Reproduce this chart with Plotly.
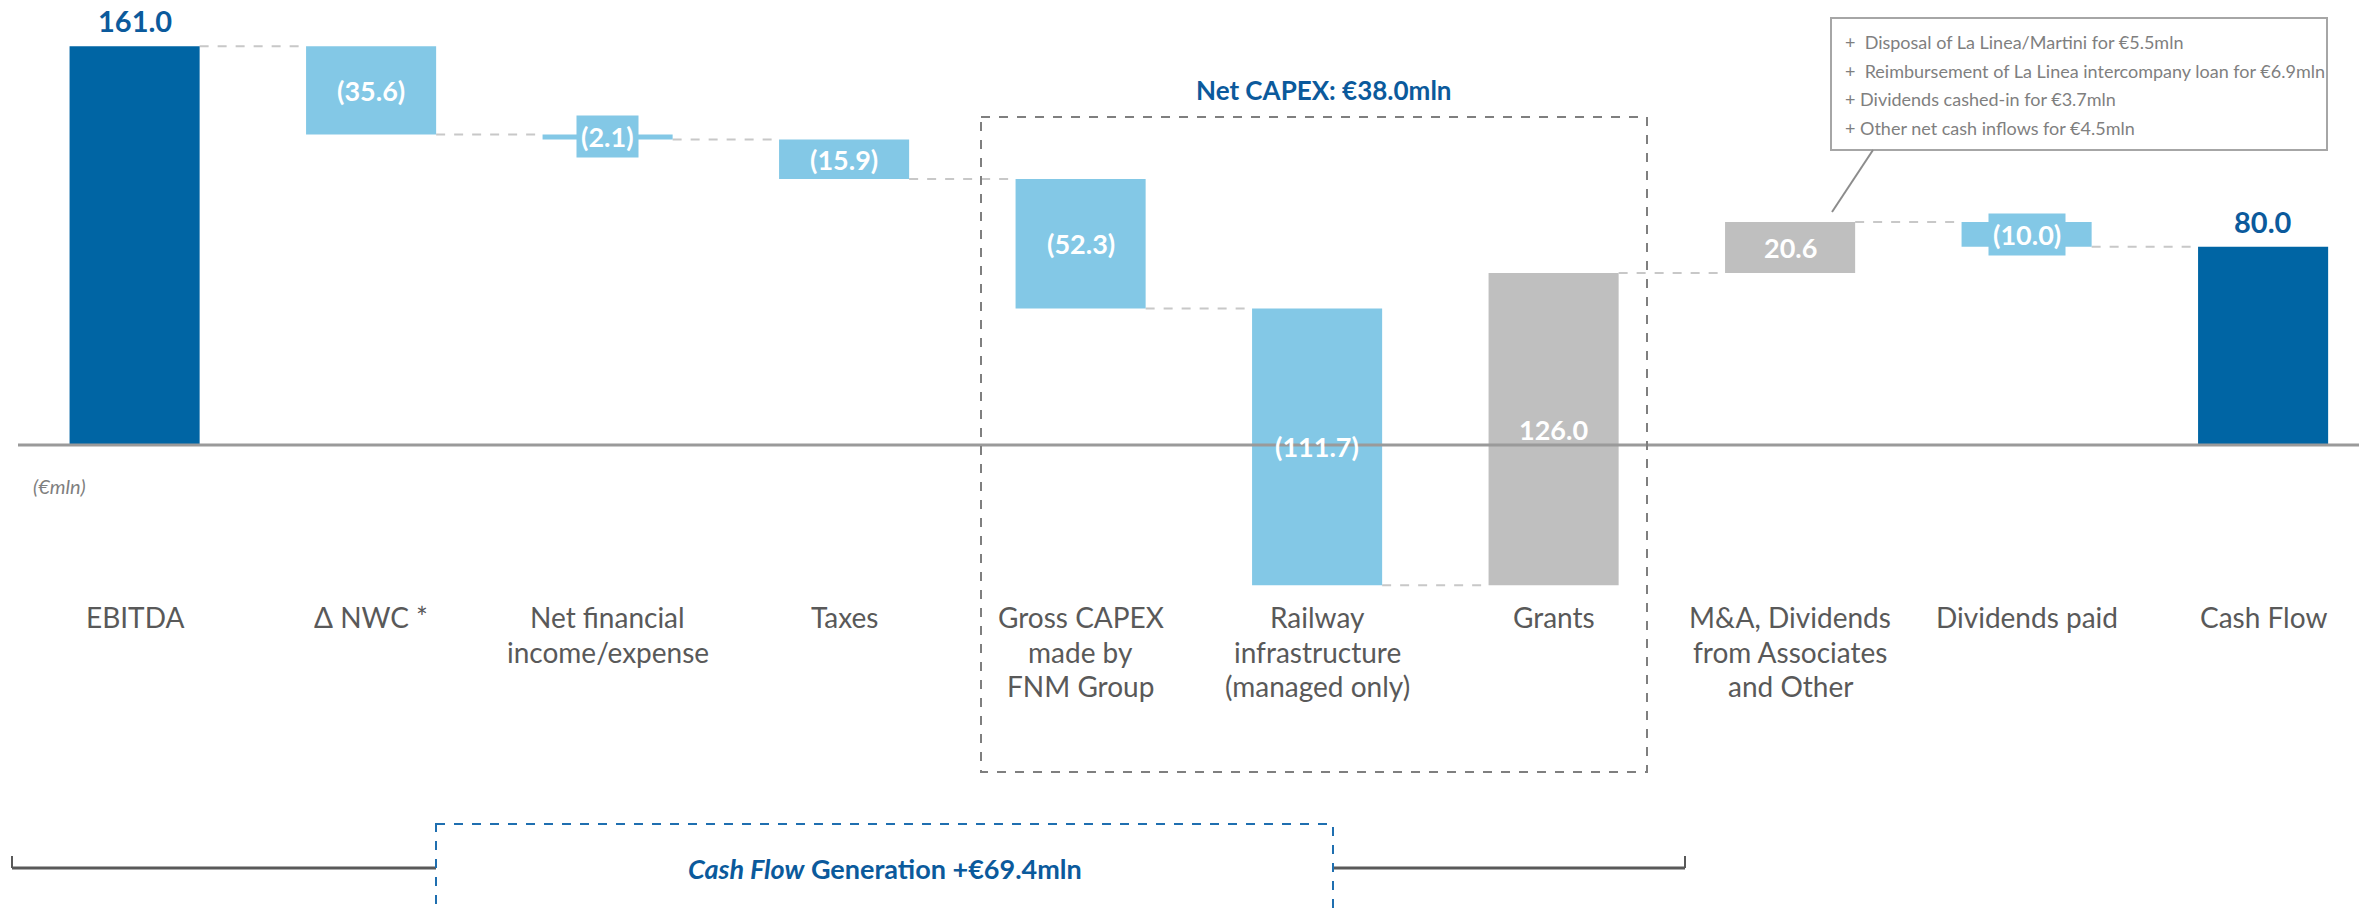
import plotly.graph_objects as go

# ---------------- data ----------------
categories = [["EBITDA"], ["Δ NWC *"], ["Net financial", "income/expense"], ["Taxes"],
              ["Gross CAPEX", "made by", "FNM Group"],
              ["Railway", "infrastructure", "(managed only)"], ["Grants"],
              ["M&A, Dividends", "from Associates", "and Other"],
              ["Dividends paid"], ["Cash Flow"]]
values = [161.0, -35.6, -2.1, -15.9, -52.3, -111.7, 126.0, 20.6, -10.0, 80.0]
kinds = ["total", "delta", "delta", "delta", "delta", "delta", "delta", "delta", "delta", "total"]
value_labels = ["161.0", "(35.6)", "(2.1)", "(15.9)", "(52.3)", "(111.7)",
                "126.0", "20.6", "(10.0)", "80.0"]
callout_lines = ["+  Disposal of La Linea/Martini for €5.5mln",
                 "+  Reimbursement of La Linea intercompany loan for €6.9mln",
                 "+ Dividends cashed-in for €3.7mln",
                 "+ Other net cash inflows for €4.5mln"]
net_capex_title = "Net CAPEX: €38.0mln"
cf_gen_title = "<i>Cash Flow</i> Generation +€69.4mln"
unit_label = "(€mln)"

# ---------------- style ----------------
W, H = 2359, 913
DARK = "#0065A4"
LIGHT = "#83C8E6"
GREY = "#BFBFBF"
TXT_DARK = "#0B5A9C"
CAT_COL = "#595959"
FONT = "Lato, 'Open Sans', sans-serif"
BAR_W = 0.55

def px(x):
    return x / W

def py(y):
    return 1 - y / H

# waterfall geometry
bases, tops = [], []
running = 0.0
for v, k in zip(values, kinds):
    if k == "total":
        bases.append(0.0)
        running = v
    else:
        bases.append(running)
        running += v
    tops.append(running)

colors = []
for v, k in zip(values, kinds):
    if k == "total":
        colors.append(DARK)
    elif v < 0:
        colors.append(LIGHT)
    else:
        colors.append(GREY)

xs = list(range(len(values)))

fig = go.Figure()
fig.add_trace(go.Bar(x=xs, y=values, base=bases, marker_color=colors,
                     marker_line_width=0, width=BAR_W, hoverinfo="skip"))

shapes = []
annotations = []

# connectors
for i in range(len(values) - 1):
    level = tops[i]
    shapes.append(dict(type="line", xref="x", yref="y",
                       x0=i + BAR_W / 2, x1=i + 1 - BAR_W / 2, y0=level, y1=level,
                       line=dict(color="#C8C8C8", width=2, dash="dash"), layer="below"))

# zero line
shapes.append(dict(type="line", xref="paper", yref="y", x0=px(18), x1=1, y0=0, y1=0,
                   line=dict(color="#9A9A9A", width=3), layer="above"))

# value labels
for i, (v, k, lab) in enumerate(zip(values, kinds, value_labels)):
    if k == "total":
        annotations.append(dict(x=i, y=v, xref="x", yref="y", text="<b>%s</b>" % lab,
                                showarrow=False, yanchor="bottom", yshift=6,
                                font=dict(family=FONT, size=29, color=TXT_DARK)))
    else:
        mid = bases[i] + v / 2
        small = abs(v) < 12
        annotations.append(dict(x=i, y=mid, xref="x", yref="y", text="<b>%s</b>" % lab,
                                showarrow=False, yanchor="middle",
                                bgcolor=colors[i] if small else None,
                                borderpad=4 if small else 1,
                                font=dict(family=FONT, size=27, color="white")))

# category labels (one annotation per line for exact line spacing)
for i, lines in enumerate(categories):
    for j, line in enumerate(lines):
        annotations.append(dict(x=i, y=py(617 + j * 34.6), xref="x", yref="paper", text=line,
                                showarrow=False, yanchor="middle", align="center",
                                font=dict(family=FONT, size=28, color=CAT_COL)))

# unit label
annotations.append(dict(x=px(31), y=py(486), xref="paper", yref="paper", text="<i>%s</i>" % unit_label,
                        showarrow=False, xanchor="left", yanchor="middle",
                        font=dict(family=FONT, size=20, color="#7F7F7F")))

# Net CAPEX dashed box
shapes.append(dict(type="rect", xref="paper", yref="paper",
                   x0=px(981), x1=px(1647), y0=py(117), y1=py(772),
                   line=dict(color="#7F7F7F", width=2, dash="dash")))
annotations.append(dict(x=px(1324), y=py(90), xref="paper", yref="paper",
                        text="<b>%s</b>" % net_capex_title, showarrow=False,
                        yanchor="middle",
                        font=dict(family=FONT, size=26, color=TXT_DARK)))

# callout box
shapes.append(dict(type="rect", xref="paper", yref="paper",
                   x0=px(1831), x1=px(2327), y0=py(18), y1=py(150),
                   line=dict(color="#A6A6A6", width=2)))
shapes.append(dict(type="line", xref="paper", yref="paper",
                   x0=px(1873), x1=px(1832), y0=py(150), y1=py(212),
                   line=dict(color="#8C8C8C", width=2)))
for j, line in enumerate(callout_lines):
    annotations.append(dict(x=px(1843), y=py(42 + j * 28.7), xref="paper", yref="paper",
                            text=line, showarrow=False, xanchor="left", yanchor="middle",
                            font=dict(family=FONT, size=18, color="#7F7F7F")))

# bottom bracket
shapes.append(dict(type="line", xref="paper", yref="paper", x0=px(12), x1=px(436),
                   y0=py(868), y1=py(868), line=dict(color="#595959", width=3)))
shapes.append(dict(type="line", xref="paper", yref="paper", x0=px(12), x1=px(12),
                   y0=py(856), y1=py(868), line=dict(color="#595959", width=2)))
shapes.append(dict(type="line", xref="paper", yref="paper", x0=px(1333), x1=px(1685),
                   y0=py(868), y1=py(868), line=dict(color="#595959", width=3)))
shapes.append(dict(type="line", xref="paper", yref="paper", x0=px(1685), x1=px(1685),
                   y0=py(856), y1=py(868), line=dict(color="#595959", width=2)))
shapes.append(dict(type="rect", xref="paper", yref="paper",
                   x0=px(436), x1=px(1333), y0=py(824), y1=py(930),
                   line=dict(color="#1F6FB0", width=2, dash="dash")))
annotations.append(dict(x=px(885), y=py(868), xref="paper", yref="paper",
                        text="<b>%s</b>" % cf_gen_title, showarrow=False,
                        yanchor="middle",
                        font=dict(family=FONT, size=27, color=TXT_DARK)))

# axes mapping
x_step = 236.5
x_first = 134.6
x0 = -(x_first / x_step)
x1 = x0 + W / x_step
zero_px = 445.0
ppu = 2.477
y_top = zero_px / ppu
y_bot = -(H - zero_px) / ppu

fig.update_layout(
    width=W, height=H,
    margin=dict(l=0, r=0, t=0, b=0),
    paper_bgcolor="white", plot_bgcolor="white",
    showlegend=False,
    xaxis=dict(range=[x0, x1], visible=False, fixedrange=True),
    yaxis=dict(range=[y_bot, y_top], visible=False, fixedrange=True),
    shapes=shapes, annotations=annotations,
    font=dict(family=FONT),
)

fig.write_html("out.html", config={"displayModeBar": False},
               post_script="document.body.style.margin='0';document.body.style.overflow='hidden';")
